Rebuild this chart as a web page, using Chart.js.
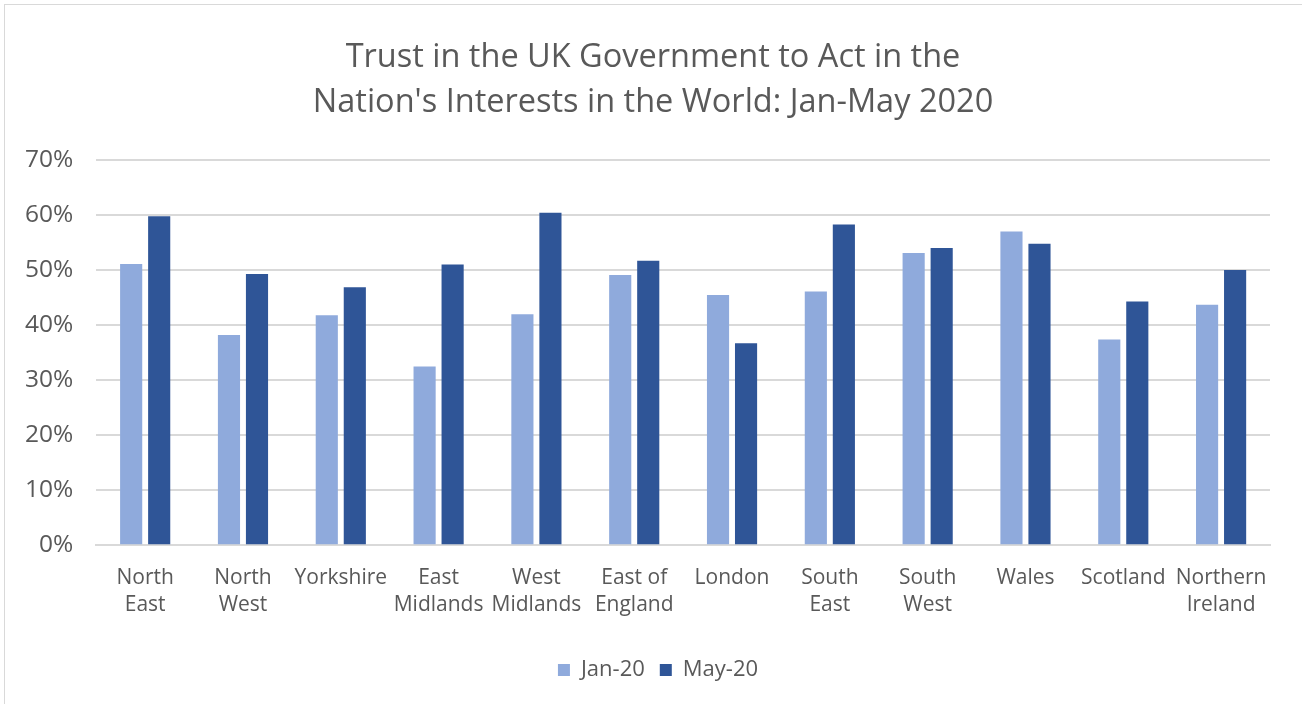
<!DOCTYPE html>
<html>
<head>
<meta charset="utf-8">
<title>Trust in the UK Government</title>
<script src="https://cdn.jsdelivr.net/npm/chart.js@4.4.0/dist/chart.umd.min.js"></script>
<style>
	html, body { margin: 0; padding: 0; background: #fff; }
	#frame {
		position: absolute;
		left: 4px;
		top: 4px;
		width: 1310px;
		height: 720px;
		border-top: 1.5px solid #d9d9d9;
		border-left: 1.5px solid #d9d9d9;
	}
	#chart-holder { position: absolute; left: 0; top: 0; width: 1302px; height: 704px; }
</style>
</head>
<body>
<div id="frame"></div>
<div id="chart-holder"><canvas id="trustChart" width="1302" height="704"></canvas></div>
<script>
// regions, two lines each where the label wraps
const regions = [
	['North', 'East'], ['North', 'West'], 'Yorkshire', ['East', 'Midlands'],
	['West', 'Midlands'], ['East of', 'England'], 'London', ['South', 'East'],
	['South', 'West'], 'Wales', 'Scotland', ['Northern', 'Ireland']
];

// share who trust the government, January 2020
const jan20 = [0.511, 0.382, 0.418, 0.325, 0.420, 0.491, 0.455, 0.461, 0.531, 0.570, 0.374, 0.437];
// and May 2020
const may20 = [0.598, 0.493, 0.469, 0.510, 0.604, 0.517, 0.367, 0.583, 0.540, 0.548, 0.443, 0.500];

const yTicks = [0, 0.1, 0.2, 0.3, 0.4, 0.5, 0.6, 0.7];

const textColor = '#595959';
const gridColor = '#d9d9d9';
const fontFamily = "'Open Sans', sans-serif";

// title and legend sit centred on the whole frame, not just the plot
const centreShift = {
	id: 'centreShift',
	afterLayout(chart) {
		chart.titleBlock.left += 34;
		chart.legend.left += 22;
		chart.legend.right += 22;
	}
};

const canvas = document.getElementById('trustChart');

const trustChart = new Chart(canvas, {
	type: 'bar',
	data: {
		labels: regions,
		datasets: [
			{
				label: 'Jan-20',
				data: jan20,
				backgroundColor: '#8faadc',
				barPercentage: 0.79,
				categoryPercentage: 0.573
			},
			{
				label: 'May-20',
				data: may20,
				backgroundColor: '#2f5597',
				barPercentage: 0.79,
				categoryPercentage: 0.573
			}
		]
	},
	plugins: [centreShift],
	options: {
		responsive: false,
		animation: false,
		layout: {
			padding: { left: 2, right: 32, top: 0, bottom: 13 }
		},
		plugins: {
			title: {
				display: true,
				text: ['Trust in the UK Government to Act in the', "Nation's Interests in the World: Jan-May 2020"],
				color: textColor,
				font: { family: fontFamily, size: 32.5, weight: 'normal', lineHeight: 1.385 },
				padding: { top: 35, bottom: 35 }
			},
			legend: {
				position: 'bottom',
				labels: {
					color: textColor,
					font: { family: fontFamily, size: 22 },
					boxWidth: 12,
					boxHeight: 12,
					padding: 15
				}
			},
			tooltip: { enabled: false }
		},
		scales: {
			x: {
				grid: { display: false, drawTicks: false },
				border: { display: true, color: gridColor, width: 2 },
				ticks: {
					color: textColor,
					font: { family: fontFamily, size: 21, lineHeight: 1.29 },
					padding: 19,
					maxRotation: 0,
					autoSkip: false
				},
				// leave room between the region names and the legend
				afterFit: (scale) => {
					scale.height += 6.5;
				}
			},
			y: {
				min: 0,
				max: 0.7,
				afterBuildTicks: (axis) => {
					axis.ticks = yTicks.map(v => ({ value: v }));
				},
				grid: { color: gridColor, lineWidth: 2, drawTicks: false },
				border: { display: false },
				ticks: {
					color: textColor,
					font: { family: fontFamily, size: 24.5 },
					padding: 23,
					callback: (value) => Math.round(value * 100) + '%'
				}
			}
		}
	}
});
</script>
</body>
</html>
